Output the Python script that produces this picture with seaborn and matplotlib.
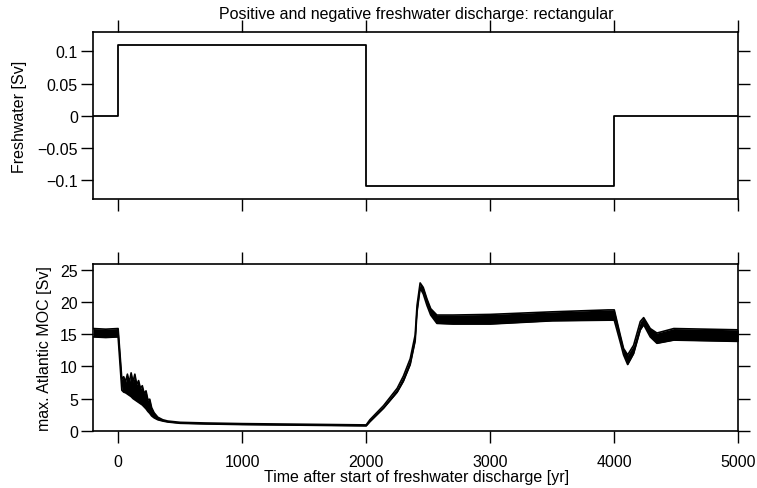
import matplotlib
matplotlib.use("Agg")
import matplotlib.pyplot as plt
import seaborn as sns
import pandas as pd

# ---------------- data ----------------
fw_time = [-200, 0, 2000, 4000, 5000]
fw_value = [0.0, 0.11, -0.11, 0.0, 0.0]

moc_time = [-200, -100, 0, 15, 30, 45, 60, 75, 90, 105, 120, 135, 150, 165, 180,
            195, 210, 225, 240, 255, 270, 290, 320, 360, 400, 500, 700, 1000,
            1500, 1990, 2000, 2030, 2140, 2250, 2300, 2355, 2395, 2410, 2435,
            2460, 2490, 2520, 2570, 2700, 3000, 3500, 3950, 4000, 4048, 4075,
            4108, 4156, 4210, 4237, 4290, 4344, 4480, 5000]
moc_low = [14.6, 14.5, 14.6, 10.5, 6.3, 6.0, 5.9, 5.7, 5.5, 5.3, 5.0, 4.8, 4.6,
           4.4, 4.2, 4.0, 3.7, 3.4, 3.0, 2.7, 2.3, 2.0, 1.7, 1.5, 1.35, 1.15,
           1.05, 0.95, 0.85, 0.75, 0.75, 1.4, 3.5, 6.0, 7.7, 10.3, 14.0, 18.5,
           22.2, 21.3, 19.5, 18.0, 16.7, 16.6, 16.6, 17.1, 17.2, 17.2, 13.8,
           11.8, 10.3, 12.0, 15.7, 16.5, 14.6, 13.6, 14.1, 13.9]
moc_high = [15.9, 15.8, 15.9, 12.0, 8.0, 8.4, 7.6, 8.8, 7.5, 9.0, 7.6, 8.8, 7.2,
            7.8, 6.6, 7.0, 5.8, 6.2, 4.8, 4.9, 3.6, 2.8, 2.1, 1.7, 1.5, 1.3,
            1.2, 1.1, 1.0, 0.9, 0.9, 1.7, 3.9, 6.6, 8.5, 11.2, 14.9, 19.5, 23.0,
            22.3, 20.5, 19.0, 18.0, 18.0, 18.1, 18.5, 18.8, 18.8, 14.9, 12.8,
            11.8, 13.3, 17.0, 17.6, 15.9, 15.2, 15.9, 15.7]

x_ticks = [0, 1000, 2000, 3000, 4000, 5000]
fw_ticks = [-0.1, -0.05, 0, 0.05, 0.1]
fw_ticklabels = ["\u22120.1", "\u22120.05", "0", "0.05", "0.1"]
moc_ticks = [0, 5, 10, 15, 20, 25]

title = "Positive and negative freshwater discharge: rectangular"
xlabel = "Time after start of freshwater discharge [yr]"
ylabel_top = "Freshwater [Sv]"
ylabel_bottom = "max. Atlantic MOC [Sv]"

# ---------------- style ----------------
sns.set_style("ticks")
FS = 11.5
plt.rcParams['font.family'] = ['Liberation Sans', 'DejaVu Sans']
plt.rcParams['font.size'] = FS
for k in ("text.color", "axes.labelcolor", "xtick.color", "ytick.color",
          "axes.edgecolor"):
    plt.rcParams[k] = "black"

W, H = 757, 489
fig = plt.figure(figsize=(W / 100, H / 100), dpi=100)
left, width = 93.3 / W, 645 / W
ax1 = fig.add_axes([left, 1 - 200 / H, width, 166.7 / H])
ax2 = fig.add_axes([left, 1 - 432 / H, width, 166.7 / H])

fw_df = pd.DataFrame({"time": fw_time, "fw": fw_value})
sns.lineplot(data=fw_df, x="time", y="fw", ax=ax1, color="black", lw=1.3,
             drawstyle="steps-post", estimator=None, sort=False)

moc_df = pd.DataFrame({"time": moc_time, "low": moc_low, "high": moc_high})
ax2.fill_between(moc_df["time"], moc_df["low"], moc_df["high"],
                 color="black", lw=0)
sns.lineplot(data=moc_df, x="time", y="low", ax=ax2, color="black", lw=1.2,
             estimator=None, sort=False)
sns.lineplot(data=moc_df, x="time", y="high", ax=ax2, color="black", lw=1.2,
             estimator=None, sort=False)

for ax in (ax1, ax2):
    ax.set_xlim(-200, 5000)
    ax.set_xticks(x_ticks)
    ax.tick_params(axis="both", direction="out", length=8.6, width=1.0,
                   color="black", labelcolor="black", labelsize=FS,
                   top=True, right=True, labeltop=False, labelright=False)
    ax.tick_params(axis="y", pad=2.5)
    ax.tick_params(axis="x", pad=8)
    for s in ax.spines.values():
        s.set_visible(True)
        s.set_linewidth(1.2)
        s.set_color("black")
    ax.set_xlabel("")

ax1.set_ylim(-0.1298, 0.1298)
ax1.set_yticks(fw_ticks)
ax1.set_yticklabels(fw_ticklabels)
ax1.tick_params(axis="x", labelbottom=False)
ax1.set_ylabel(ylabel_top, fontsize=FS, va="center")
ax1.yaxis.set_label_coords((19.5 - 93.3) / 645, 0.5)

ax2.set_ylim(-0.05, 25.9)
ax2.set_yticks(moc_ticks)
ax2.set_ylabel(ylabel_bottom, fontsize=FS, va="center")
ax2.yaxis.set_label_coords((45 - 93.3) / 645, 0.5)
ax2.set_xlabel(xlabel, fontsize=FS)
ax2.xaxis.label.set_va("baseline")
ax2.xaxis.set_label_coords((416.7 - 93.3) / 645, (432 - 482.5) / 166.7)

fig.text(415.8 / W, 1 - 19.5 / H, title, ha="center", va="baseline", fontsize=FS)

fig.savefig("out.png", dpi=100)
